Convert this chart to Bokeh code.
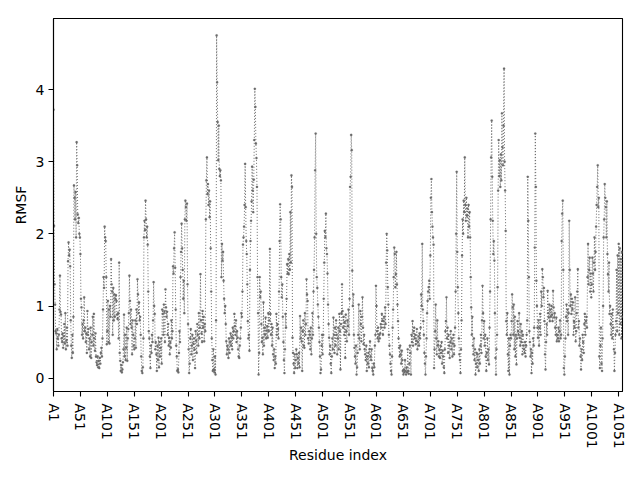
import numpy as np
from bokeh.plotting import figure
from bokeh.models import FixedTicker, Range1d, ColumnDataSource
from bokeh.embed import file_html
from bokeh.resources import INLINE

# RMSF per residue (estimated from reference), blocks of 50 residues
rmsf_1_50 = [3.72, 2.11, 1.30, 1.02, 0.65, 0.62, 0.40, 0.68, 0.55, 0.45,
             0.60, 0.95, 1.42, 0.92, 0.88, 0.55, 0.50, 0.62, 0.42, 0.58,
             0.75, 0.48, 0.90, 0.40, 0.52, 0.70, 0.45, 1.62, 1.88, 1.70,
             1.78, 1.55, 0.80, 0.45, 0.28, 0.60, 0.35, 0.85, 2.67, 2.50,
             2.20, 2.58, 1.95, 3.27, 2.95, 2.27, 2.15, 2.22, 2.00, 1.95]
rmsf_51_100 = [1.72, 1.10, 0.98, 0.60, 0.75, 0.55, 0.80, 1.12, 0.65, 0.70,
               0.50, 0.62, 0.35, 0.93, 0.60, 0.68, 0.40, 0.55, 0.30, 0.70,
               0.28, 0.50, 0.60, 0.85, 0.45, 0.89, 0.55, 0.38, 0.62, 0.30,
               0.22, 0.18, 0.30, 0.15, 0.24, 0.14, 0.28, 0.20, 0.35, 0.42,
               0.30, 0.55, 0.95, 1.40, 1.25, 2.10, 1.95, 1.90, 1.40, 0.47]
rmsf_101_150 = [0.65, 1.07, 0.50, 0.95, 0.48, 1.00, 0.85, 1.65, 1.30, 1.20,
                0.60, 1.25, 0.80, 1.16, 0.85, 1.10, 1.15, 1.07, 0.88, 0.82,
                0.90, 0.55, 1.60, 0.35, 0.24, 0.10, 0.18, 0.08, 0.12, 0.22,
                0.40, 0.88, 0.30, 0.60, 0.25, 0.42, 0.70, 0.24, 0.55, 0.68,
                0.90, 1.42, 1.07, 0.75, 0.95, 0.70, 0.33, 0.80, 0.60, 0.45]
rmsf_151_200 = [0.40, 0.55, 0.80, 0.42, 0.95, 0.75, 1.37, 1.16, 0.90, 1.05,
                0.80, 0.85, 0.60, 0.30, 0.10, 0.07, 0.15, 0.55, 1.95, 2.18,
                2.05, 2.46, 2.20, 1.95, 2.10, 1.85, 1.20, 0.65, 0.55, 0.30,
                0.14, 0.45, 0.35, 0.60, 0.50, 0.80, 1.33, 1.00, 0.89, 0.40,
                0.50, 0.33, 0.10, 0.45, 0.25, 0.56, 0.15, 0.50, 0.30, 0.42]
rmsf_201_250 = [0.55, 0.20, 0.95, 0.89, 0.60, 1.02, 0.92, 0.50, 1.23, 0.98,
                0.85, 0.92, 0.60, 0.75, 0.45, 0.56, 0.33, 0.50, 0.42, 0.80,
                0.55, 0.65, 1.55, 1.45, 1.80, 2.02, 1.53, 0.95, 0.45, 0.30,
                0.10, 0.12, 0.08, 0.35, 0.65, 0.50, 1.40, 1.75, 2.14, 1.80,
                1.50, 1.10, 1.35, 0.90, 2.20, 2.46, 2.37, 2.18, 2.42, 1.30]
rmsf_251_300 = [0.75, 0.40, 0.07, 0.20, 0.55, 0.68, 0.33, 0.45, 0.60, 0.25,
                0.48, 0.55, 0.40, 0.14, 0.65, 0.52, 0.35, 0.75, 0.60, 0.45,
                0.90, 0.55, 0.70, 1.44, 0.80, 0.62, 0.50, 0.93, 0.70, 0.85,
                0.51, 0.75, 0.65, 2.20, 2.74, 3.06, 2.55, 2.69, 2.40, 2.60,
                2.23, 2.45, 1.80, 1.20, 0.55, 0.25, 0.10, 0.40, 0.12, 0.08]
rmsf_301_350 = [0.30, 0.05, 0.80, 4.75, 4.10, 3.55, 3.02, 3.50, 2.90, 2.80,
                2.88, 2.74, 1.40, 1.86, 1.63, 1.75, 1.35, 1.10, 0.90, 1.00,
                0.75, 0.51, 0.33, 0.45, 0.40, 0.28, 0.55, 0.35, 0.50, 0.62,
                0.45, 0.58, 0.40, 0.70, 0.55, 0.65, 0.89, 0.72, 0.60, 0.80,
                0.50, 0.65, 0.56, 0.40, 0.30, 0.28, 0.45, 0.55, 0.70, 0.90]
rmsf_351_400 = [0.85, 1.20, 1.85, 1.95, 2.10, 2.40, 2.97, 2.37, 1.90, 1.72,
                1.30, 0.79, 0.55, 0.60, 0.38, 1.50, 1.90, 2.18, 2.45, 2.93,
                2.60, 2.30, 2.75, 3.30, 4.01, 3.76, 3.25, 3.05, 2.65, 1.40,
                0.90, 0.05, 0.35, 1.40, 1.12, 1.20, 0.75, 0.50, 0.56, 0.33,
                1.05, 0.45, 0.70, 0.60, 0.84, 0.55, 0.66, 0.72, 0.56, 0.90]
rmsf_401_450 = [0.65, 0.80, 1.79, 0.89, 0.60, 0.75, 0.45, 0.70, 0.33, 0.25,
                0.40, 0.14, 0.30, 0.20, 0.89, 0.60, 0.75, 0.68, 0.55, 1.20,
                1.90, 2.41, 2.20, 1.40, 1.12, 1.30, 0.85, 0.50, 0.25, 0.07,
                0.40, 0.89, 0.70, 1.10, 1.58, 1.45, 1.65, 1.44, 1.72, 1.50,
                2.30, 1.60, 2.81, 2.65, 0.56, 0.35, 0.20, 0.07, 0.33, 0.14]
rmsf_451_500 = [0.25, 0.40, 0.33, 0.14, 0.28, 0.20, 0.35, 0.15, 0.86, 0.55,
                0.70, 0.51, 0.10, 0.65, 0.80, 0.45, 0.42, 0.90, 0.60, 0.75,
                1.37, 1.16, 1.07, 0.55, 0.48, 0.65, 0.60, 0.40, 0.70, 0.33,
                0.55, 0.90, 0.60, 1.20, 1.50, 1.95, 2.88, 3.39, 2.00, 1.40,
                1.25, 1.02, 0.85, 0.70, 0.50, 0.30, 0.07, 0.12, 0.45, 0.60]
rmsf_501_550 = [0.33, 0.60, 1.10, 1.60, 2.04, 1.95, 2.28, 1.80, 1.72, 1.45,
                1.02, 0.75, 0.56, 0.33, 0.45, 0.20, 0.07, 0.30, 0.55, 0.40,
                0.84, 0.60, 0.35, 0.70, 0.45, 0.80, 0.60, 0.33, 0.55, 0.70,
                0.40, 0.89, 0.65, 0.12, 0.75, 0.90, 1.30, 0.93, 0.70, 0.85,
                0.60, 0.78, 0.28, 0.88, 0.65, 0.51, 0.80, 0.72, 0.95, 0.60]
rmsf_551_600 = [1.10, 2.65, 2.79, 3.37, 3.16, 1.49, 1.00, 1.16, 0.60, 0.42,
                0.30, 0.20, 0.45, 0.05, 0.15, 0.35, 0.60, 1.02, 0.55, 0.40,
                0.93, 0.75, 0.51, 0.85, 1.12, 0.70, 0.47, 0.60, 0.40, 0.33,
                0.25, 0.45, 0.10, 0.30, 0.20, 0.35, 0.15, 0.40, 0.51, 0.30,
                0.25, 0.40, 0.14, 0.10, 0.05, 0.20, 0.15, 0.45, 0.60, 1.28]
rmsf_601_650 = [1.00, 0.65, 0.55, 0.70, 0.51, 0.60, 0.55, 0.62, 0.75, 0.70,
                0.89, 0.80, 0.60, 0.79, 0.85, 0.70, 0.98, 0.75, 1.60, 2.00,
                1.77, 1.26, 1.02, 0.60, 0.45, 0.33, 0.20, 0.10, 0.05, 0.30,
                0.70, 0.95, 1.40, 1.81, 1.72, 1.26, 1.44, 1.75, 1.30, 1.02,
                0.79, 0.55, 0.42, 0.30, 0.45, 0.33, 0.20, 0.38, 0.25, 0.10]
rmsf_651_700 = [0.05, 0.12, 0.08, 0.25, 0.10, 0.05, 0.15, 0.08, 0.40, 0.10,
                0.06, 0.20, 0.45, 0.35, 0.05, 0.60, 0.50, 0.79, 0.45, 0.65,
                0.70, 0.55, 0.60, 0.47, 0.52, 0.68, 0.40, 0.50, 0.58, 0.45,
                0.62, 0.55, 0.70, 1.16, 1.00, 1.86, 0.95, 0.79, 0.60, 0.35,
                0.20, 0.05, 0.30, 0.55, 0.90, 1.07, 1.20, 1.26, 1.35, 1.10]
rmsf_701_750 = [1.70, 2.50, 2.76, 2.30, 2.10, 1.95, 1.85, 0.14, 0.40, 0.65,
                1.02, 0.55, 0.33, 0.80, 0.45, 0.51, 0.30, 0.40, 0.28, 0.45,
                0.35, 0.50, 0.20, 0.38, 0.30, 0.15, 0.07, 0.40, 0.65, 0.79,
                1.12, 0.55, 0.70, 0.35, 0.60, 0.45, 0.28, 0.50, 0.65, 0.40,
                0.55, 0.30, 0.48, 0.60, 0.33, 0.45, 0.70, 1.20, 2.00, 2.86]
rmsf_751_800 = [1.75, 1.26, 0.90, 0.55, 0.33, 0.25, 0.07, 0.40, 0.80, 1.70,
                2.20, 2.00, 2.46, 2.30, 3.06, 2.40, 2.18, 2.50, 2.25, 2.35,
                1.95, 2.40, 2.10, 2.30, 1.95, 1.40, 0.98, 0.60, 0.85, 0.45,
                0.33, 0.55, 0.25, 0.40, 0.05, 0.20, 0.35, 0.15, 0.33, 0.25,
                0.10, 0.40, 0.20, 0.45, 0.60, 0.35, 0.80, 1.28, 0.90, 0.55]
rmsf_801_850 = [0.79, 0.45, 0.60, 0.30, 0.10, 0.35, 0.55, 0.25, 0.40, 0.19,
                0.70, 1.20, 2.20, 3.06, 3.57, 2.79, 2.18, 1.72, 1.90, 1.63,
                0.90, 0.28, 0.05, 0.40, 0.60, 1.26, 2.60, 3.30, 2.80, 3.02,
                2.65, 3.10, 2.74, 3.67, 3.20, 2.95, 3.50, 4.29, 3.00, 2.60,
                2.04, 0.79, 0.60, 0.90, 0.33, 0.10, 0.55, 0.05, 0.45, 0.60]
rmsf_851_900 = [0.55, 0.79, 1.16, 0.98, 0.60, 1.02, 0.40, 0.85, 0.30, 0.60,
                0.19, 0.55, 0.79, 0.65, 0.60, 0.90, 0.56, 0.45, 0.75, 0.50,
                0.65, 0.33, 0.60, 0.45, 0.40, 0.35, 0.50, 0.30, 0.45, 0.60,
                0.80, 2.79, 2.18, 1.40, 0.65, 0.50, 0.30, 0.40, 0.07, 0.35,
                0.20, 0.55, 0.45, 0.70, 1.81, 3.39, 2.65, 1.35, 1.00, 0.70]
rmsf_901_950 = [0.56, 0.80, 0.45, 0.70, 0.89, 0.60, 1.20, 1.00, 1.51, 1.40,
                1.12, 1.25, 0.79, 0.33, 0.12, 0.50, 0.75, 0.60, 1.21, 0.90,
                0.84, 1.02, 0.79, 0.95, 0.85, 1.00, 0.88, 0.79, 1.21, 0.98,
                0.84, 0.90, 0.70, 0.60, 0.84, 0.51, 0.60, 0.55, 0.70, 0.51,
                0.65, 0.80, 0.55, 0.60, 1.90, 2.28, 2.46, 1.50, 0.14, 0.05]
rmsf_951_1000 = [0.30, 0.55, 0.85, 1.02, 0.79, 0.95, 0.60, 0.90, 2.18, 1.50,
                 1.00, 1.16, 0.89, 1.10, 0.95, 1.05, 0.60, 0.79, 0.70, 1.12,
                 0.51, 0.65, 0.90, 1.20, 1.51, 0.70, 0.79, 0.45, 0.55, 0.30,
                 0.12, 0.40, 0.25, 0.60, 0.50, 0.35, 0.75, 0.89, 0.60, 0.79,
                 0.85, 0.70, 1.40, 1.86, 1.30, 1.50, 1.67, 1.20, 1.45, 1.12]
rmsf_1001_1058 = [1.30, 1.67, 1.45, 1.20, 1.60, 1.95, 1.50, 1.75, 2.10, 2.40,
                  2.65, 2.95, 2.37, 2.50, 0.30, 0.14, 0.45, 0.70, 0.20, 0.10,
                  0.55, 1.00, 1.95, 2.20, 2.69, 2.50, 2.37, 1.95, 2.45, 1.72,
                  1.44, 1.20, 1.60, 0.89, 1.00, 0.75, 0.60, 0.89, 0.55, 0.95,
                  0.70, 0.40, 0.10, 0.35, 0.60, 0.79, 1.50, 0.65, 1.70, 0.90,
                  1.86, 0.60, 1.80, 0.75, 1.65, 0.55, 1.75, 0.85]

rmsf = (rmsf_1_50 + rmsf_51_100 + rmsf_101_150 + rmsf_151_200 + rmsf_201_250 +
        rmsf_251_300 + rmsf_301_350 + rmsf_351_400 + rmsf_401_450 + rmsf_451_500 +
        rmsf_501_550 + rmsf_551_600 + rmsf_601_650 + rmsf_651_700 + rmsf_701_750 +
        rmsf_751_800 + rmsf_801_850 + rmsf_851_900 + rmsf_901_950 + rmsf_951_1000 +
        rmsf_1001_1058)

chain = "A"
tick_step = 50
x_label = "Residue index"
y_label = "RMSF"
y_ticks = [0, 1, 2, 3, 4]

n = len(rmsf)
idx = list(range(n))
tick_pos = list(range(0, n, tick_step))
tick_labels = {t: f"{chain}{t + 1}" for t in tick_pos}

src = ColumnDataSource(dict(x=idx, y=rmsf))

ymin, ymax = min(rmsf), max(rmsf)
pad = 0.05 * (ymax - ymin)

FONT = "DejaVu Sans"
FS = "14px"
COLOR = "#6a6a6a"

p = figure(width=640, height=480, output_backend="svg", toolbar_location=None,
           x_range=Range1d(0, n - 1), y_range=Range1d(ymin - pad, ymax + pad),
           min_border_left=53, min_border_right=18, min_border_top=18, min_border_bottom=89)
p.background_fill_color = "white"
p.border_fill_color = "white"
p.outline_line_color = "black"
p.outline_line_width = 1.1
p.grid.visible = False

p.line("x", "y", source=src, line_color=COLOR, line_width=1.0, line_dash="1 2")
p.scatter("x", "y", source=src, size=2.3, fill_color=COLOR, line_color=COLOR, line_width=0.2)

p.xaxis.ticker = FixedTicker(ticks=tick_pos)
p.xaxis.major_label_overrides = tick_labels
p.xaxis.major_label_orientation = "vertical"
p.yaxis.ticker = FixedTicker(ticks=y_ticks)
p.xaxis.axis_label = x_label
p.yaxis.axis_label = y_label

for ax in (p.xaxis, p.yaxis):
    ax.axis_line_color = "black"
    ax.axis_line_width = 1.1
    ax.major_tick_line_color = "black"
    ax.major_tick_line_width = 1.1
    ax.major_tick_out = 5
    ax.major_tick_in = 0
    ax.minor_tick_line_color = None
    ax.major_label_text_font = FONT
    ax.major_label_text_font_size = FS
    ax.major_label_text_color = "black"
    ax.axis_label_text_font = FONT
    ax.axis_label_text_font_size = FS
    ax.axis_label_text_font_style = "normal"
    ax.axis_label_text_color = "black"

p.xaxis.major_label_standoff = 7
p.yaxis.major_label_standoff = 4
p.xaxis.axis_label_standoff = -5
p.yaxis.axis_label_standoff = 4

open("out.html", "w").write(file_html(p, INLINE))
